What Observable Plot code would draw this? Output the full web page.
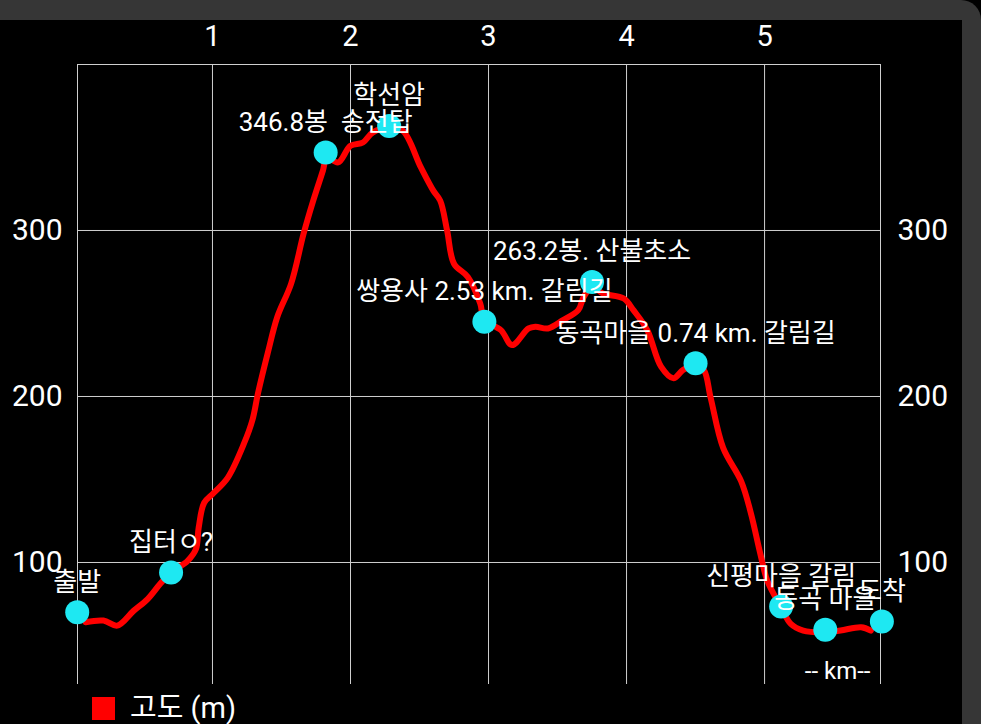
<!DOCTYPE html>
<html>
<head>
<meta charset="utf-8">
<script src="https://cdn.jsdelivr.net/npm/d3@7"></script>
<script src="https://cdn.jsdelivr.net/npm/@observablehq/plot@0.6"></script>
<style>
  html, body { margin: 0; padding: 0; background: #000; }
  body { width: 981px; height: 724px; position: relative; overflow: hidden;
         font-family: Roboto, "Noto Sans CJK KR", sans-serif; }
  #frame { position: absolute; left: 0; top: 0; width: 981px; height: 724px;
           background: #363636; border-top-right-radius: 20px; }
  #inner { position: absolute; left: 0; top: 20px; width: 962px; height: 704px; background: #000; overflow: hidden; }
  #chart { position: absolute; left: 0; top: 0; }
  #legend { position: absolute; left: 92px; top: 677px; height: 23px; display: flex; align-items: center;
            color: #fff; font-size: 29px; line-height: 23px; }
  #legend .sw { width: 23px; height: 23px; background: #ff0000; margin-right: 15px; flex: none; }
</style>
</head>
<body>
<div id="frame"></div>
<div id="inner">
  <div id="chart"></div>
  <div id="legend"><div class="sw"></div><span>고도 (m)</span></div>
</div>
<script>
// Elevation profile (km, m)
const profileKm = [0.08, 0.21, 0.31, 0.43, 0.53, 0.62, 0.70, 0.82, 0.88, 0.90, 0.94, 1.01, 1.11, 1.23, 1.29, 1.33, 1.40, 1.47, 1.57, 1.66, 1.73, 1.80, 1.83, 1.91, 2.00, 2.09, 2.16, 2.29, 2.38, 2.51, 2.60, 2.65, 2.70, 2.75, 2.85, 2.94, 2.97, 3.09, 3.17, 3.29, 3.34, 3.43, 3.54, 3.65, 3.69, 3.75, 3.83, 3.98, 4.05, 4.15, 4.25, 4.34, 4.41, 4.50, 4.56, 4.61, 4.70, 4.83, 4.90, 4.97, 5.02, 5.12, 5.19, 5.28, 5.44, 5.55, 5.70, 5.77];
const profileElev = [64, 65, 62, 71, 78, 87, 94, 101, 108, 121, 136, 142, 151, 172, 186, 202, 226, 248, 268, 298, 318, 336, 344, 341, 351, 353, 359, 362, 360, 338, 324, 318, 300, 280, 272, 256, 246, 240, 231, 241, 242, 241, 246, 252, 260, 266, 262, 259, 252, 240, 218, 211, 216, 219, 216, 199, 169, 149, 130, 105, 89, 73, 63, 59, 58, 59, 61, 59];

// Waypoints
const wpNames = ["출발", "집터ㅇ?", "346.8봉  송전탑", "학선암", "쌍용사 2.53 km. 갈림길", "263.2봉. 산불초소", "동곡마을 0.74 km. 갈림길", "신평마을 갈림", "동곡 마을", "도착"];
const wpKm = [0.02, 0.70, 1.82, 2.28, 2.97, 3.75, 4.50, 5.12, 5.44, 5.85];
const wpElev = [70, 94, 347, 363, 245, 269, 220, 73.5, 59.5, 64.5];

// Axis ticks
const xTicks = [1, 2, 3, 4, 5];
const yTicks = [100, 200, 300];
const xDomain = [0.022, 5.84];
const yDomain = [26.5, 400];

const profile = profileKm.map((k, i) => ({km: k, elev: profileElev[i]}));
const waypoints = wpNames.map((n, i) => ({name: n, km: wpKm[i], elev: wpElev[i]}));

const chart = Plot.plot({
  width: 962,
  height: 670,
  marginLeft: 77,
  marginRight: 82,
  marginTop: 44,
  marginBottom: 6,
  style: {background: "#000", color: "#fff", fontFamily: 'Roboto, "Noto Sans CJK KR", sans-serif'},
  x: {domain: xDomain},
  y: {domain: yDomain},
  marks: [
    Plot.ruleX([...xTicks, ...xDomain], {stroke: "#cfcfcf", strokeWidth: 1}),
    Plot.ruleY([...yTicks, yDomain[1]], {stroke: "#cfcfcf", strokeWidth: 1}),
    Plot.axisX({anchor: "top", ticks: xTicks, tickFormat: d => String(d), tickSize: 0, tickPadding: 19, fontSize: 29, label: null}),
    Plot.axisY({anchor: "left", ticks: yTicks, tickFormat: d => String(d), tickSize: 0, tickPadding: 15, fontSize: 30, label: null}),
    Plot.axisY({anchor: "right", ticks: yTicks, tickFormat: d => String(d), tickSize: 0, tickPadding: 17, fontSize: 30, label: null}),
    Plot.line(profile, {x: "km", y: "elev", stroke: "#ff0000", strokeWidth: 6, curve: "catmull-rom"}),
    Plot.dot(waypoints, {x: "km", y: "elev", r: 12, fill: "#1ee8f2", stroke: "none"}),
    Plot.text(waypoints, {x: "km", y: "elev", text: "name", dy: -30, fill: "#fff", fontSize: 26}),
    Plot.text(["-- km--"], {frameAnchor: "bottom-right", dx: -10, dy: -6, textAnchor: "end", fill: "#fff", fontSize: 24})
  ]
});
document.getElementById("chart").appendChild(chart);
</script>
</body>
</html>
